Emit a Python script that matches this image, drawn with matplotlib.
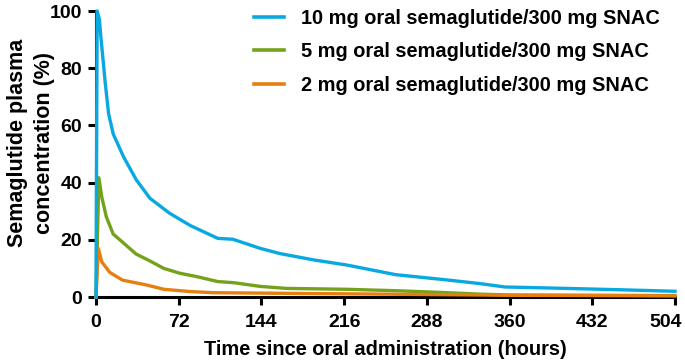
import matplotlib
matplotlib.use("Agg")
import matplotlib.pyplot as plt
import matplotlib.transforms as mtransforms

plt.rcParams['font.family'] = ['Liberation Sans', 'DejaVu Sans']
plt.rcParams['font.weight'] = 'bold'

# Data (hours, % of peak)
t_10mg = [0, 1, 3, 4, 8, 11, 15, 24, 35, 47, 64, 82, 106, 119, 143, 160, 189, 218, 261, 300, 334, 356, 400, 450, 504]
c_10mg = [0, 100, 97, 92, 75, 64, 57, 49, 41, 34.5, 29.3, 25, 20.5, 20.2, 17, 15.2, 13.0, 11.2, 7.8, 6.2, 4.7, 3.5, 3.1, 2.6, 2.0]

t_5mg = [0, 2.5, 5, 9, 15, 35, 47, 59, 73, 88, 106, 120, 143, 166, 218, 261, 300, 334, 360, 430, 504]
c_5mg = [0, 41.7, 35, 28, 22, 15, 12.6, 10, 8.3, 7.1, 5.4, 5, 3.7, 3.0, 2.7, 2.2, 1.6, 1.0, 0.7, 0.6, 0.5]

t_2mg = [0, 2, 5, 12, 23, 44, 59, 82, 102, 160, 250, 360, 504]
c_2mg = [0, 17, 12.3, 8.6, 5.9, 4.2, 2.7, 1.9, 1.5, 1.3, 1.0, 0.6, 0.4]

labels = ["10 mg oral semaglutide/300 mg SNAC",
          "5 mg oral semaglutide/300 mg SNAC",
          "2 mg oral semaglutide/300 mg SNAC"]
colors = ["#08A9E0", "#74A21A", "#E67E10"]

xticks = [0, 72, 144, 216, 288, 360, 432, 504]
yticks = [0, 20, 40, 60, 80, 100]

fig = plt.figure(figsize=(6.85, 3.64), dpi=100)
ax = fig.add_axes([96/685, 1 - 297/364, (675-96)/685, (297-11)/364])

lw = 2.4
h3, = ax.plot(t_2mg, c_2mg, color=colors[2], lw=lw, clip_on=False, label=labels[2], zorder=3)
h2, = ax.plot(t_5mg, c_5mg, color=colors[1], lw=lw, clip_on=False, label=labels[1], zorder=2)
h1, = ax.plot(t_10mg, c_10mg, color=colors[0], lw=lw, clip_on=False, label=labels[0], zorder=4)

ax.set_xlim(0, 504)
ax.set_ylim(0, 100)
ax.set_xticks(xticks)
ax.set_yticks(yticks)
ax.set_xticklabels([str(v) for v in xticks])
ax.set_yticklabels([str(v) for v in yticks])
for s in ['top', 'right']:
    ax.spines[s].set_visible(False)
for s in ['left', 'bottom']:
    ax.spines[s].set_linewidth(2.2)
    ax.spines[s].set_zorder(1)
ax.tick_params(axis='both', which='major', length=6, width=2.2, labelsize=14, pad=4)
ax.tick_params(axis='x', pad=6)
for lab in ax.get_xticklabels() + ax.get_yticklabels():
    lab.set_fontweight('bold')

# keep the last x tick label inside the figure edge
last = ax.get_xticklabels()[-1]
last.set_transform(last.get_transform() + mtransforms.ScaledTranslation(-9/100, 0, fig.dpi_scale_trans))

ax.set_xlabel("Time since oral administration (hours)", fontsize=14.4, fontweight='bold', labelpad=7)
fig.text(18/685, 1 - 143/364, "Semaglutide plasma", rotation=90, ha='center', va='center',
         fontsize=15.5, fontweight='bold')
fig.text(45/685, 1 - 143/364, "concentration (%)", rotation=90, ha='center', va='center',
         fontsize=15.5, fontweight='bold')

leg = fig.legend(handles=[h1, h2, h3], loc='upper left', bbox_to_anchor=(254/685, 1 - 9/364),
                 frameon=False, fontsize=14.4, handlelength=1.5, handletextpad=0.85,
                 labelspacing=0.72, borderpad=0, borderaxespad=0)
for txt in leg.get_texts():
    txt.set_fontweight('bold')
for ln in leg.get_lines():
    ln.set_linewidth(2.6)

fig.savefig("out.png", dpi=100)
